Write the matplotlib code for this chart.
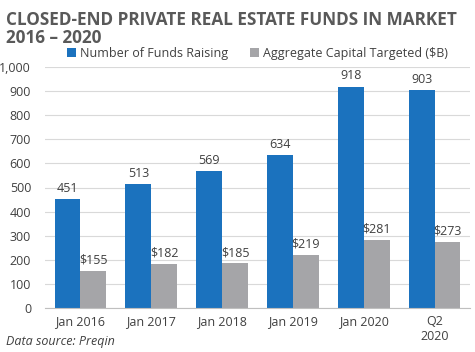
import numpy as np
import matplotlib.pyplot as plt

# data
categories = ["Jan 2016", "Jan 2017", "Jan 2018", "Jan 2019", "Jan 2020", "Q2\n2020"]
funds_raising = [451, 513, 569, 634, 918, 903]
capital_targeted = [155, 182, 185, 219, 281, 273]

blue = "#1B72BE"
gray = "#A5A5A8"
txt = "#404040"

plt.rcParams["font.family"] = ["Open Sans", "DejaVu Sans"]

fig = plt.figure(figsize=(4.75, 3.52), dpi=100)
ax = fig.add_axes([45 / 475, 1 - 308 / 352, 425 / 475, 241 / 352])

x = np.arange(len(categories))
w = 0.365
b1 = ax.bar(x - w / 2, funds_raising, w, color=blue, label="Number of Funds Raising")
b2 = ax.bar(x + w / 2, capital_targeted, w, color=gray, label="Aggregate Capital Targeted ($B)")

for rect, v in zip(b1, funds_raising):
    ax.text(rect.get_x() + rect.get_width() / 2, v + 18, str(v),
            ha="center", va="bottom", fontsize=9, color=txt)
for rect, v in zip(b2, capital_targeted):
    ax.text(rect.get_x() + rect.get_width() / 2, v + 18, "$" + str(v),
            ha="center", va="bottom", fontsize=9, color=txt)

ax.set_xlim(-0.5, len(categories) - 0.5)
ax.set_ylim(0, 1000)
ax.set_yticks(range(0, 1001, 100))
ax.set_yticklabels([f"{v:,}" for v in range(0, 1001, 100)])
ax.set_xticks(x)
ax.set_xticklabels(categories)
ax.tick_params(axis="both", length=0, labelsize=9, colors=txt)
ax.tick_params(axis="y", pad=10)
ax.tick_params(axis="x", pad=5)
ax.yaxis.grid(True, color="#D9D9D9", linewidth=0.8)
ax.set_axisbelow(True)
for s in ["top", "right", "left"]:
    ax.spines[s].set_visible(False)
ax.spines["bottom"].set_color("#BFBFBF")

fig.text(0.012, 0.97, "CLOSED-END PRIVATE REAL ESTATE FUNDS IN MARKET\n2016 \u2013 2020",
         ha="left", va="top", fontsize=12.3, fontweight="bold", color="#595959",
         linespacing=1.05)

ax.legend(loc="lower center", bbox_to_anchor=(0.5, 1.0), ncol=2, frameon=False,
          fontsize=9, handlelength=0.7, handleheight=0.7, columnspacing=1.8,
          handletextpad=0.3, labelcolor=txt, borderaxespad=0.2)

fig.text(0.012, 0.01, "Data source: Preqin", ha="left", va="bottom",
         fontsize=9, style="italic", color=txt)

fig.savefig("out.png", dpi=100)
